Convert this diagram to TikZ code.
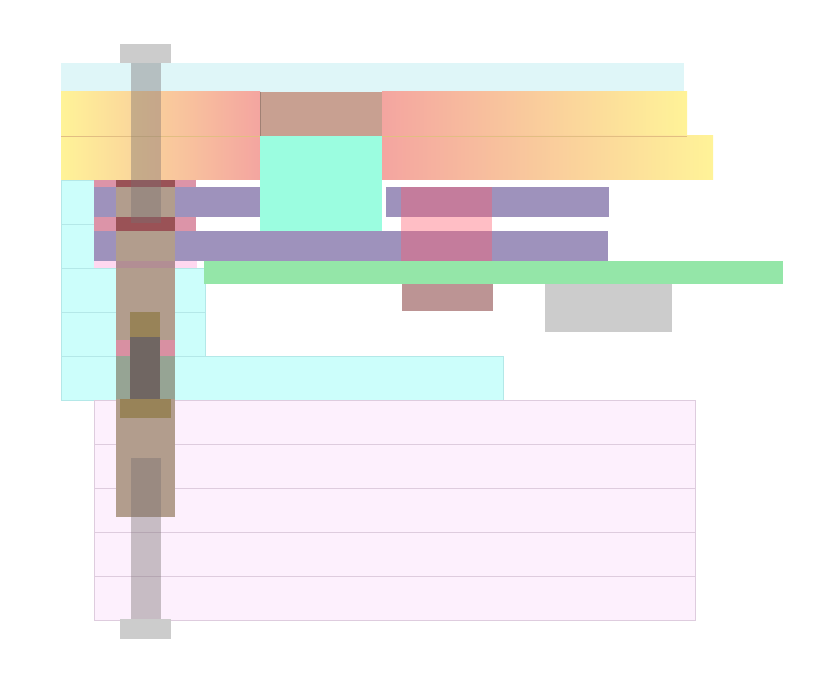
\documentclass[tikz,border=0pt]{standalone}
\usepackage{tikz}
\definecolor{bandcyan}{RGB}{223,246,248}
\definecolor{cellcyan}{RGB}{204,254,251}
\definecolor{cellline}{RGB}{180,232,232}
\definecolor{rowpink}{RGB}{253,240,253}
\definecolor{rowline}{RGB}{222,204,222}
\definecolor{warmyellow}{RGB}{255,243,152}
\definecolor{warmsalmon}{RGB}{244,165,160}
\definecolor{gradline}{RGB}{226,190,130}
\definecolor{midbrown}{RGB}{200,160,145}
\definecolor{aqua}{RGB}{155,253,224}
\definecolor{slate}{RGB}{158,146,188}
\definecolor{rose}{RGB}{220,148,168}
\definecolor{palerose}{RGB}{255,216,240}
\definecolor{hotpink}{RGB}{255,93,109}
\definecolor{mint}{RGB}{148,230,168}
\definecolor{dustyred}{RGB}{188,148,148}
\definecolor{capgray}{RGB}{204,204,204}
\definecolor{columntan}{RGB}{178,157,141}
\definecolor{darkred}{RGB}{154,82,86}
\definecolor{tanrose}{RGB}{178,142,148}
\definecolor{tanpink}{RGB}{216,144,162}
\definecolor{tangreen}{RGB}{150,164,148}
\definecolor{olive}{RGB}{152,131,88}
\definecolor{smoke}{RGB}{112,102,98}
\definecolor{rodgray}{RGB}{120,110,112}

\begin{document}
\begin{tikzpicture}[x=1pt, y=-1pt,
  band/.style={fill=bandcyan},
  gradleft/.style={left color=warmyellow, right color=warmsalmon},
  gradright/.style={left color=warmsalmon, right color=warmyellow},
  cell/.style={fill=cellcyan, draw=cellline, line width=0.4pt},
  pinkrow/.style={fill=rowpink, draw=rowline, line width=0.4pt},
  slatebar/.style={fill=slate},
  rod/.style={fill=rodgray, opacity=0.4},
  rodcap/.style={fill=capgray},
]
  \useasboundingbox (0,0) rectangle (830,692);

  % top band and gradient rows
  \fill[band] (61,63) rectangle (684,92);
  \shade[gradleft]  (61,92)   rectangle (260,136);
  \shade[gradright] (382,92)  rectangle (687,136);
  \shade[gradleft]  (61,136)  rectangle (260,180);
  \shade[gradright] (382,136) rectangle (713,180);
  \fill[midbrown] (260,92) rectangle (382,136);
  \draw[gradline, line width=0.5pt] (61,136) -- (687,136);
  \draw[midbrown!80!black, line width=0.4pt] (260,92) -- (260,136);

  % cyan cells on the left
  \foreach \top/\right in {180/94, 224/94, 268/205, 312/205, 356/503}
    \draw[cell] (61,\top) rectangle (\right,\top+44);

  % pink rows at the bottom
  \foreach \top in {400,444,488,532,576}
    \draw[pinkrow] (94,\top) rectangle (695,\top+44);

  % pink pieces under the slate bars
  \fill[rose] (94,180) rectangle (196,231);
  \fill[palerose] (94,261) rectangle (197,268);

  % slate bars
  \fill[slatebar] (94,187) rectangle (260,217);
  \fill[slatebar] (386,187) rectangle (609,217);
  \fill[slatebar] (94,231) rectangle (608,261);
  \fill[aqua] (260,136) rectangle (382,231);
  \fill[hotpink, opacity=0.4] (401,187) rectangle (492,261);

  % green strip and the boxes below it
  \fill[mint] (204,261) rectangle (783,284);
  \fill[dustyred] (402,284) rectangle (493,311);
  \fill[capgray] (545,284) rectangle (672,332);

  % tall tan column
  \fill[columntan] (116,180) rectangle (175,517);
  \fill[darkred] (116,180) rectangle (175,187);
  \fill[darkred] (116,217) rectangle (175,231);
  \fill[tanrose] (116,261) rectangle (175,268);
  \fill[tanpink] (116,340) rectangle (175,356);
  \fill[tangreen] (116,356) rectangle (175,399);

  % inner blocks
  \fill[olive] (130,312) rectangle (160,337);
  \fill[smoke] (130,337) rectangle (160,399);
  \fill[olive] (120,399) rectangle (171,418);

  % rod with its two caps
  \fill[rodcap] (120,44) rectangle (171,63);
  \fill[rod] (131,63) rectangle (161,223);
  \fill[rod] (131,458) rectangle (161,619);
  \fill[rodcap] (120,619) rectangle (171,639);
\end{tikzpicture}
\end{document}
